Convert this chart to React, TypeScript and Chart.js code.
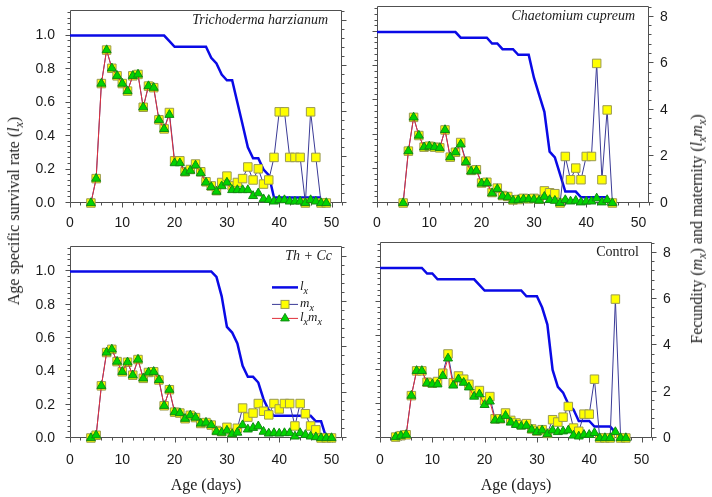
import { useEffect, useRef } from "react";
import { Chart, registerables } from "chart.js";

Chart.register(...registerables);

// ---------- Trichoderma harzianum ----------
const thLxAge = [0, 18, 19, 20, 26, 27, 28, 29, 30, 31, 32, 33, 34, 35, 36, 37, 38, 39, 48];
const thLx = [1.0, 1.0, 0.967, 0.933, 0.933, 0.867, 0.833, 0.767, 0.733, 0.733, 0.6, 0.467, 0.333, 0.267, 0.267, 0.2, 0.167, 0.033, 0.033];
const thAge = [4, 5, 6, 7, 8, 9, 10, 11, 12, 13, 14, 15, 16, 17, 18, 19, 20, 21, 22, 23, 24, 25, 26, 27, 28, 29, 30, 31, 32, 33, 34, 35, 36, 37, 38, 39, 40, 41, 42, 43, 44, 45, 46, 47, 48, 49];
const thMx = [0, 1.07, 5.24, 6.71, 5.91, 5.58, 5.24, 4.91, 5.58, 5.64, 4.2, 5.13, 5.06, 3.65, 3.25, 3.97, 1.85, 1.85, 1.37, 1.47, 1.71, 1.37, 0.93, 0.75, 0.54, 0.9, 1.18, 0.75, 0.9, 1.07, 1.58, 1.01, 1.5, 0.83, 1.01, 2.0, 4.0, 4.0, 2.0, 2.0, 2.0, 0, 4.0, 2.0, 0, 0];
const thLxMx = [0, 1.07, 5.24, 6.71, 5.91, 5.58, 5.24, 4.91, 5.58, 5.64, 4.2, 5.13, 5.06, 3.65, 3.25, 3.87, 1.75, 1.75, 1.33, 1.42, 1.65, 1.31, 0.9, 0.7, 0.5, 0.74, 0.9, 0.57, 0.57, 0.57, 0.57, 0.31, 0.43, 0.17, 0.14, 0.07, 0.13, 0.13, 0.07, 0.07, 0.07, 0, 0.13, 0.07, 0, 0];

// ---------- Chaetomium cupreum ----------
const ccLxAge = [0, 15, 16, 21, 22, 23, 24, 26, 27, 29, 30, 31, 32, 33, 34, 35, 36, 38, 39, 44];
const ccLx = [1.0, 1.0, 0.967, 0.967, 0.933, 0.933, 0.9, 0.9, 0.867, 0.867, 0.733, 0.633, 0.533, 0.3, 0.267, 0.167, 0.067, 0.067, 0.033, 0.033];
const ccAge = [5, 6, 7, 8, 9, 10, 11, 12, 13, 14, 15, 16, 17, 18, 19, 20, 21, 22, 23, 24, 25, 26, 27, 28, 29, 30, 31, 32, 33, 34, 35, 36, 37, 38, 39, 40, 41, 42, 43, 44, 45];
const ccMx = [0, 2.23, 3.68, 2.9, 2.4, 2.44, 2.4, 2.37, 3.14, 1.97, 2.18, 2.6, 1.8, 1.4, 1.43, 0.86, 0.89, 0.45, 0.64, 0.32, 0.28, 0.13, 0.15, 0.2, 0.18, 0.2, 0.16, 0.52, 0.44, 0.4, 0, 2.0, 1.0, 1.5, 1.0, 2.0, 2.0, 6.0, 1.0, 4.0, 0];
const ccLxMx = [0, 2.23, 3.68, 2.9, 2.4, 2.44, 2.4, 2.37, 3.14, 1.97, 2.18, 2.52, 1.76, 1.36, 1.39, 0.84, 0.86, 0.42, 0.6, 0.29, 0.25, 0.11, 0.13, 0.16, 0.16, 0.15, 0.11, 0.27, 0.13, 0.1, 0, 0.13, 0.07, 0.1, 0.03, 0.07, 0.07, 0.2, 0.03, 0.13, 0];

// ---------- Th + Cc ----------
const tcLxAge = [0, 27, 28, 29, 30, 31, 32, 33, 34, 35, 36, 37, 38, 39, 46, 47, 48, 49];
const tcLx = [1.0, 1.0, 0.967, 0.85, 0.667, 0.633, 0.567, 0.433, 0.367, 0.367, 0.333, 0.233, 0.167, 0.133, 0.133, 0.1, 0.1, 0];
const tcAge = [4, 5, 6, 7, 8, 9, 10, 11, 12, 13, 14, 15, 16, 17, 18, 19, 20, 21, 22, 23, 24, 25, 26, 27, 28, 29, 30, 31, 32, 33, 34, 35, 36, 37, 38, 39, 40, 41, 42, 43, 44, 45, 46, 47, 48, 49, 50];
const tcMx = [0, 0.12, 2.3, 3.77, 3.91, 3.37, 2.92, 3.34, 2.77, 3.46, 2.63, 2.89, 2.92, 2.56, 1.42, 2.13, 1.14, 1.1, 0.85, 1.0, 0.9, 0.64, 0.68, 0.57, 0.33, 0.28, 0.47, 0.24, 0.43, 1.32, 0.92, 1.1, 1.52, 1.18, 1.02, 1.52, 1.28, 1.52, 1.52, 0.53, 1.52, 1.07, 0.53, 0.36, 0, 0, 0];
const tcLxMx = [0, 0.12, 2.3, 3.77, 3.91, 3.37, 2.92, 3.34, 2.77, 3.46, 2.63, 2.89, 2.92, 2.56, 1.42, 2.13, 1.14, 1.1, 0.85, 1.0, 0.9, 0.64, 0.68, 0.57, 0.28, 0.24, 0.33, 0.17, 0.24, 0.57, 0.38, 0.45, 0.52, 0.28, 0.2, 0.22, 0.2, 0.22, 0.22, 0.07, 0.22, 0.14, 0.07, 0.04, 0, 0, 0];

// ---------- Control ----------
const ctLxAge = [0, 8, 9, 10, 11, 18, 20, 27, 28, 30, 31, 32, 33, 34, 35, 36, 37, 38, 40, 41, 44, 45, 46];
const ctLx = [1.0, 1.0, 0.967, 0.967, 0.933, 0.933, 0.867, 0.867, 0.833, 0.833, 0.767, 0.667, 0.4, 0.3, 0.267, 0.2, 0.167, 0.1, 0.1, 0.067, 0.067, 0.033, 0.017];
const ctAge = [3, 4, 5, 6, 7, 8, 9, 10, 11, 12, 13, 14, 15, 16, 17, 18, 19, 20, 21, 22, 23, 24, 25, 26, 27, 28, 29, 30, 31, 32, 33, 34, 35, 36, 37, 38, 39, 40, 41, 42, 43, 44, 45, 46, 47];
const ctMx = [0.04, 0.1, 0.14, 1.83, 2.9, 2.9, 2.41, 2.37, 2.44, 2.8, 3.63, 2.39, 2.68, 2.54, 2.32, 1.91, 2.05, 1.61, 1.79, 0.83, 0.83, 1.08, 0.76, 0.65, 0.57, 0.62, 0.39, 0.3, 0.36, 0.2, 0.79, 0.69, 0.9, 1.36, 0.43, 0.29, 1.03, 1.03, 2.54, 0, 0, 0, 6.0, 0, 0];
const ctLxMx = [0.04, 0.1, 0.14, 1.83, 2.9, 2.9, 2.37, 2.32, 2.32, 2.68, 3.44, 2.27, 2.54, 2.39, 2.19, 1.79, 1.89, 1.43, 1.58, 0.76, 0.79, 0.96, 0.67, 0.57, 0.5, 0.53, 0.36, 0.26, 0.33, 0.17, 0.33, 0.26, 0.29, 0.33, 0.11, 0.07, 0.14, 0.14, 0.22, 0, 0, 0, 0.26, 0, 0];

// ---------- axes ----------
const xTicks = [0, 10, 20, 30, 40, 50];
const lxTicks = [0, 0.2, 0.4, 0.6, 0.8, 1.0];
const fecTicks = [0, 2, 4, 6, 8];
const X_MAX = 52;
const LX_MAX = 1.15;
const FEC_MAX = 8.45;

const SANS = '"Liberation Sans", Arial, sans-serif';
const SERIF = '"Liberation Serif", "Times New Roman", serif';
const AXIS = "#505050";
const LX_BLUE = "#0a0ae6";
const MX_LINE = "#3a3a96";
const MX_FILL = "#ffff00";
const MX_EDGE = "#9a9a50";
const LXMX_LINE = "#e0303a";
const LXMX_FILL = "#00d400";
const LXMX_EDGE = "#128a12";

const PAD_L = 60;
const PAD_R = 45;
const PAD_T = 10;
const PAD_B = 32;

type Box = { left: number; top: number; right: number; bottom: number };
type Panel = {
  id: string;
  box: Box;
  name: string;
  italic: boolean;
  nameInset: number;
  xPad: number;
  lxAge: number[];
  lx: number[];
  age: number[];
  mx: number[];
  lxmx: number[];
  leftLabels: boolean;
  rightLabels: boolean;
  legend: boolean;
};

const panels: Panel[] = [
  { id: "th", box: { left: 70, top: 5, right: 342, bottom: 203 }, name: "Trichoderma harzianum", italic: true, nameInset: 14, xPad: 4,
    lxAge: thLxAge, lx: thLx, age: thAge, mx: thMx, lxmx: thLxMx, leftLabels: true, rightLabels: false, legend: false },
  { id: "cc", box: { left: 377, top: 5, right: 649, bottom: 203 }, name: "Chaetomium cupreum", italic: true, nameInset: 14, xPad: 4,
    lxAge: ccLxAge, lx: ccLx, age: ccAge, mx: ccMx, lxmx: ccLxMx, leftLabels: false, rightLabels: true, legend: false },
  { id: "tc", box: { left: 70, top: 241, right: 342, bottom: 438 }, name: "Th + Cc", italic: true, nameInset: 10, xPad: 6,
    lxAge: tcLxAge, lx: tcLx, age: tcAge, mx: tcMx, lxmx: tcLxMx, leftLabels: true, rightLabels: false, legend: true },
  { id: "ct", box: { left: 380, top: 241, right: 652, bottom: 438 }, name: "Control", italic: false, nameInset: 13, xPad: 6,
    lxAge: ctLxAge, lx: ctLx, age: ctAge, mx: ctMx, lxmx: ctLxMx, leftLabels: false, rightLabels: true, legend: false },
];

const pts = (xs: number[], ys: number[]) => xs.map((x, i) => ({ x, y: ys[i] }));

type Run = { t: string; sub?: boolean };

function drawRich(ctx: CanvasRenderingContext2D, runs: Run[], x: number, y: number, size: number) {
  let cx = x;
  for (const r of runs) {
    const fs = r.sub ? size * 0.78 : size;
    ctx.font = `italic ${fs}px ${SERIF}`;
    ctx.fillText(r.t, cx, r.sub ? y + size * 0.3 : y);
    cx += ctx.measureText(r.t).width;
  }
}

function drawTriangle(ctx: CanvasRenderingContext2D, cx: number, cy: number, r: number) {
  ctx.beginPath();
  ctx.moveTo(cx, cy - r);
  ctx.lineTo(cx + r * 0.866, cy + r * 0.5);
  ctx.lineTo(cx - r * 0.866, cy + r * 0.5);
  ctx.closePath();
  ctx.fillStyle = LXMX_FILL;
  ctx.fill();
  ctx.strokeStyle = LXMX_EDGE;
  ctx.lineWidth = 1;
  ctx.stroke();
}

function drawFrame(chart: Chart) {
  const { ctx, chartArea: a } = chart;
  const xs = chart.scales.x;
  const ys = chart.scales.y;
  const y2 = chart.scales.y2;
  const L = Math.round(a.left);
  const R = Math.round(a.right);
  const T = Math.round(a.top);
  const B = Math.round(a.bottom);
  ctx.save();
  ctx.strokeStyle = AXIS;
  ctx.lineWidth = 1;
  ctx.beginPath();
  ctx.rect(L + 0.5, T + 0.5, R - L - 1, B - T - 1);
  // age axis: major every 10, minor every 2
  for (let i = 0; i <= 26; i++) {
    const px = Math.round(xs.getPixelForValue(i * 2)) + 0.5;
    const len = i % 5 === 0 ? 5 : 3;
    ctx.moveTo(px, B - 0.5);
    ctx.lineTo(px, B - 0.5 + len);
  }
  // survival axis: major every 0.2
  for (let i = 0; i <= 34; i++) {
    const py = Math.round(ys.getPixelForValue(i / 30)) - 0.5;
    const len = i % 6 === 0 ? 5 : 3;
    ctx.moveTo(L + 0.5, py);
    ctx.lineTo(L + 0.5 - len, py);
  }
  // fecundity axis: major every 2, minor every 0.4
  for (let i = 0; i <= 21; i++) {
    const py = Math.round(y2.getPixelForValue(i * 0.4)) - 0.5;
    const len = i % 5 === 0 ? 5 : 3;
    ctx.moveTo(R - 0.5, py);
    ctx.lineTo(R - 0.5 + len, py);
  }
  ctx.stroke();
  ctx.restore();
}

function drawLabels(chart: Chart, p: Panel) {
  const { ctx, chartArea: a } = chart;
  ctx.save();
  ctx.fillStyle = "#1a1a1a";
  ctx.textAlign = "right";
  ctx.textBaseline = "middle";
  ctx.font = `${p.italic ? "italic " : ""}14px ${SERIF}`;
  ctx.fillText(p.name, a.right - p.nameInset, a.top + 10);

  if (p.legend) {
    const x0 = a.left + 202;
    const x1 = a.left + 228;
    const xm = (x0 + x1) / 2;
    const tx = a.left + 230;
    const rows = [a.top + 41, a.top + 58, a.top + 72];
    ctx.textAlign = "left";
    ctx.textBaseline = "alphabetic";
    // l_x
    ctx.strokeStyle = LX_BLUE;
    ctx.lineWidth = 2.5;
    ctx.beginPath();
    ctx.moveTo(x0, rows[0]);
    ctx.lineTo(x1, rows[0]);
    ctx.stroke();
    // m_x
    ctx.strokeStyle = MX_LINE;
    ctx.lineWidth = 1;
    ctx.beginPath();
    ctx.moveTo(x0, rows[1]);
    ctx.lineTo(x1, rows[1]);
    ctx.stroke();
    ctx.fillStyle = MX_FILL;
    ctx.fillRect(xm - 4, rows[1] - 4, 8, 8);
    ctx.strokeStyle = MX_EDGE;
    ctx.strokeRect(xm - 4, rows[1] - 4, 8, 8);
    // l_x m_x
    ctx.strokeStyle = LXMX_LINE;
    ctx.beginPath();
    ctx.moveTo(x0, rows[2]);
    ctx.lineTo(x1, rows[2]);
    ctx.stroke();
    drawTriangle(ctx, xm, rows[2], 5);

    ctx.fillStyle = "#1a1a1a";
    drawRich(ctx, [{ t: "l" }, { t: "x", sub: true }], tx, rows[0] + 3, 13);
    drawRich(ctx, [{ t: "m" }, { t: "x", sub: true }], tx, rows[1] + 3, 13);
    drawRich(ctx, [{ t: "l" }, { t: "x", sub: true }, { t: "m" }, { t: "x", sub: true }], tx, rows[2] + 3, 13);
  }
  ctx.restore();
}

function PanelChart({ p }: { p: Panel }) {
  const ref = useRef<HTMLCanvasElement | null>(null);
  const w = p.box.right - p.box.left + PAD_L + PAD_R;
  const h = p.box.bottom - p.box.top + PAD_T + PAD_B;

  useEffect(() => {
    const canvas = ref.current;
    if (!canvas) return;
    const tickFont = { family: SANS, size: 14 };
    const chart = new Chart(canvas, {
      type: "line",
      data: {
        datasets: [
          {
            label: "lx",
            data: pts(p.lxAge, p.lx),
            yAxisID: "y",
            borderColor: LX_BLUE,
            borderWidth: 2.5,
            pointRadius: 0,
            tension: 0,
            order: 3,
            clip: false,
          },
          {
            label: "mx",
            data: pts(p.age, p.mx),
            yAxisID: "y2",
            borderColor: MX_LINE,
            borderWidth: 1,
            pointStyle: "rect",
            pointRadius: 6,
            pointBackgroundColor: MX_FILL,
            pointBorderColor: MX_EDGE,
            pointBorderWidth: 1,
            tension: 0,
            order: 2,
            clip: false,
          },
          {
            label: "lxmx",
            data: pts(p.age, p.lxmx),
            yAxisID: "y2",
            borderColor: LXMX_LINE,
            borderWidth: 1,
            pointStyle: "triangle",
            pointRadius: 5.2,
            pointBackgroundColor: LXMX_FILL,
            pointBorderColor: LXMX_EDGE,
            pointBorderWidth: 1,
            tension: 0,
            order: 1,
            clip: false,
          },
        ],
      } as any,
      options: {
        responsive: false,
        animation: false,
        devicePixelRatio: 1,
        layout: { padding: { top: PAD_T, left: 0, right: 0, bottom: 0 } },
        plugins: { legend: { display: false }, tooltip: { enabled: false } },
        scales: {
          x: {
            type: "linear",
            min: 0,
            max: X_MAX,
            grid: { display: false },
            border: { display: false },
            afterBuildTicks: (s: any) => {
              s.ticks = xTicks.map((v) => ({ value: v }));
            },
            ticks: { font: tickFont, color: "#1a1a1a", padding: p.xPad, maxRotation: 0, autoSkip: false, callback: (v: any) => String(v) },
            afterFit: (s: any) => {
              s.height = PAD_B;
            },
          },
          y: {
            type: "linear",
            position: "left",
            min: 0,
            max: LX_MAX,
            grid: { display: false },
            border: { display: false },
            afterBuildTicks: (s: any) => {
              s.ticks = lxTicks.map((v) => ({ value: v }));
            },
            ticks: { display: p.leftLabels, font: tickFont, color: "#1a1a1a", padding: 7, callback: (v: any) => Number(v).toFixed(1) },
            afterFit: (s: any) => {
              s.width = PAD_L;
            },
          },
          y2: {
            type: "linear",
            position: "right",
            min: 0,
            max: FEC_MAX,
            grid: { display: false },
            border: { display: false },
            afterBuildTicks: (s: any) => {
              s.ticks = fecTicks.map((v) => ({ value: v }));
            },
            ticks: { display: p.rightLabels, font: tickFont, color: "#1a1a1a", padding: 3, callback: (v: any) => String(v) },
            afterFit: (s: any) => {
              s.width = PAD_R;
            },
          },
        },
      } as any,
      plugins: [
        {
          id: "frame-" + p.id,
          beforeDatasetsDraw: (c: Chart) => drawFrame(c),
          afterDatasetsDraw: (c: Chart) => drawLabels(c, p),
        },
      ],
    });
    return () => chart.destroy();
  }, [p]);

  return (
    <canvas
      ref={ref}
      width={w}
      height={h}
      style={{ position: "absolute", left: p.box.left - PAD_L, top: p.box.top - PAD_T, width: w, height: h }}
    />
  );
}

const sub: React.CSSProperties = { fontStyle: "italic", fontSize: "0.75em", position: "relative", top: "0.3em" };

function VTitle({ cx, cy, children }: { cx: number; cy: number; children: React.ReactNode }) {
  return (
    <div
      style={{
        position: "absolute",
        left: cx,
        top: cy,
        transform: "translate(-50%, -50%) rotate(-90deg)",
        whiteSpace: "nowrap",
        fontFamily: SERIF,
        fontSize: 16,
        lineHeight: 1,
        color: "#1a1a1a",
      }}
    >
      {children}
    </div>
  );
}

function AgeTitle({ cx }: { cx: number }) {
  return (
    <div
      style={{
        position: "absolute",
        left: cx,
        top: 485,
        transform: "translate(-50%, -50%)",
        whiteSpace: "nowrap",
        fontFamily: SERIF,
        fontSize: 16,
        lineHeight: 1,
        color: "#1a1a1a",
      }}
    >
      Age (days)
    </div>
  );
}

export default function App() {
  return (
    <div style={{ position: "fixed", left: 0, top: 0, width: 712, height: 497, background: "#ffffff", overflow: "hidden" }}>
      {panels.map((p) => (
        <PanelChart key={p.id} p={p} />
      ))}
      <VTitle cx={14} cy={211}>
        Age specific survival rate (<i>l</i>
        <span style={sub}>x</span>)
      </VTitle>
      <VTitle cx={697} cy={229}>
        Fecundity (<i>m</i>
        <span style={sub}>x</span>) and maternity (<i>l</i>
        <span style={sub}>x</span>
        <i>m</i>
        <span style={sub}>x</span>)
      </VTitle>
      <AgeTitle cx={206} />
      <AgeTitle cx={516} />
    </div>
  );
}
